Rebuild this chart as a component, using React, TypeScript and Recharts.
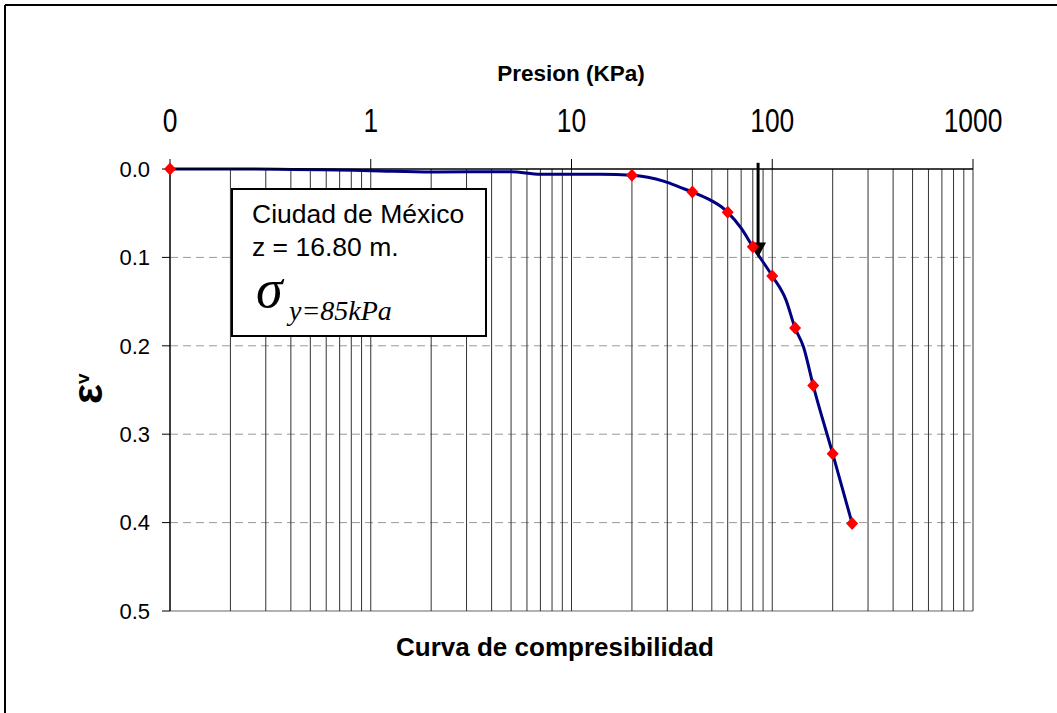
import React from "react";
import { ComposedChart, Line, XAxis, YAxis, ReferenceLine } from "recharts";

// presion (kPa) and vertical strain
const curveP = [0.1, 0.2, 1, 2, 5, 7, 14, 20, 29, 35, 40, 50, 56, 60, 70, 80, 100, 117, 130, 143, 160, 200, 250];
const curveE = [0, 0, 0.002, 0.0035, 0.003, 0.006, 0.006, 0.007, 0.014, 0.021, 0.026, 0.036, 0.043, 0.049, 0.067, 0.088, 0.121, 0.148, 0.18, 0.201, 0.245, 0.322, 0.401];

const pointP = [0.1, 20, 40, 60, 80, 100, 130, 160, 200, 250];
const pointE = [0, 0.007, 0.026, 0.049, 0.088, 0.121, 0.18, 0.245, 0.322, 0.401];

const xTicks = [0.1, 1, 10, 100, 1000];
const yTicks = [0, 0.1, 0.2, 0.3, 0.4, 0.5];
const yMinor = [0.02, 0.04, 0.06, 0.08, 0.12, 0.14, 0.16, 0.18, 0.22, 0.24, 0.26, 0.28, 0.32, 0.34, 0.36, 0.38, 0.42, 0.44, 0.46, 0.48];
const xGrid = [
  0.2, 0.3, 0.4, 0.5, 0.6, 0.7, 0.8, 0.9, 1,
  2, 3, 4, 5, 6, 7, 8, 9, 10,
  20, 30, 40, 50, 60, 70, 80, 90, 100,
  200, 300, 400, 500, 600, 700, 800, 900, 1000,
];
const yGrid = [0.1, 0.2, 0.3, 0.4];

const yieldP = 85;
const arrowFrom = -0.007;
const arrowTo = 0.1;

const curve = curveP.map((p, i) => ({ p, e: curveE[i] }));
const points = pointP.map((p, i) => ({ p, e: pointE[i] }));

const FONT = "'Liberation Sans', Arial, sans-serif";
const SERIF = "'Liberation Serif', 'Times New Roman', serif";

function TopTick({ x, y, payload }: any) {
  return (
    <text
      x={x}
      y={y}
      textAnchor="middle"
      fontSize={33}
      fontFamily={FONT}
      fill="#000"
      transform={`translate(${x} 0) scale(0.8 1) translate(${-x} 0)`}
    >
      {Math.round(payload.value)}
    </text>
  );
}

function Diamond({ cx, cy, index }: any) {
  if (cx == null || cy == null) return <g key={`d${index}`} />;
  return (
    <polygon
      key={`d${index}`}
      points={`${cx},${cy - 6.5} ${cx + 6},${cy} ${cx},${cy + 6.5} ${cx - 6},${cy}`}
      fill="#ff0000"
    />
  );
}

function Arrow(props: any) {
  const { x1, y1, x2, y2 } = props;
  if (x1 == null) return null;
  return (
    <g>
      <line x1={x1} y1={y1} x2={x2} y2={y2 - 10} stroke="#000" strokeWidth={3} />
      <polygon points={`${x2},${y2} ${x2 - 8},${y2 - 15} ${x2 + 8},${y2 - 15}`} fill="#000" />
    </g>
  );
}

export default function App() {
  return (
    <div style={{ position: "absolute", left: 0, top: 0, width: 1057, height: 713, background: "#fff" }}>
      <ComposedChart
        width={1057}
        height={713}
        margin={{ top: 109, right: 84, bottom: 102, left: 110 }}
      >
        <XAxis
          dataKey="p"
          type="number"
          scale="log"
          domain={[0.1, 1000]}
          ticks={xTicks}
          orientation="top"
          height={60}
          tickSize={10}
          tickMargin={27}
          tick={<TopTick />}
          axisLine={{ stroke: "#000", strokeWidth: 1.5 }}
          tickLine={{ stroke: "#000" }}
        />
        <YAxis
          type="number"
          domain={[0, 0.5]}
          ticks={yTicks}
          reversed
          width={60}
          tickSize={8}
          tickMargin={12}
          tickFormatter={(v: number) => v.toFixed(1)}
          tick={{ fontSize: 22, fontFamily: FONT, fill: "#000" }}
          axisLine={{ stroke: "#000", strokeWidth: 1.5 }}
          tickLine={{ stroke: "#000" }}
        />
        <YAxis
          yAxisId="minor"
          type="number"
          domain={[0, 0.5]}
          ticks={yMinor}
          reversed
          mirror
          tick={false}
          tickSize={5}
          axisLine={false}
          tickLine={{ stroke: "#000" }}
        />
        {yGrid.map((v) => (
          <ReferenceLine key={`h${v}`} y={v} stroke="#999" strokeDasharray="8 5" />
        ))}
        <ReferenceLine y={0.5} stroke="#999" strokeWidth={1.5} />
        {xGrid.map((v) => (
          <ReferenceLine key={`v${v}`} x={v} stroke="#333" strokeWidth={1} />
        ))}
        <Line
          data={curve}
          dataKey="e"
          type="monotone"
          stroke="#000080"
          strokeWidth={3}
          dot={false}
          activeDot={false}
          isAnimationActive={false}
        />
        <Line
          data={points}
          dataKey="e"
          stroke="none"
          dot={<Diamond />}
          activeDot={false}
          isAnimationActive={false}
        />
        <ReferenceLine
          segment={[{ x: yieldP, y: arrowFrom }, { x: yieldP, y: arrowTo }]}
          ifOverflow="visible"
          shape={<Arrow />}
        />
      </ComposedChart>

      <svg
        width={1057}
        height={713}
        style={{ position: "absolute", left: 0, top: 0, pointerEvents: "none" }}
      >
        <line x1={5} y1={5} x2={1057} y2={5} stroke="#000" strokeWidth={2} />
        <line x1={5} y1={5} x2={5} y2={713} stroke="#000" strokeWidth={2} />

        <text x={571} y={81} textAnchor="middle" fontFamily={FONT} fontWeight="bold" fontSize={22.5}>
          Presion (KPa)
        </text>
        <text x={555} y={656} textAnchor="middle" fontFamily={FONT} fontWeight="bold" fontSize={26}>
          Curva de compresibilidad
        </text>

        <text x={102} y={404} transform="rotate(-90 102 404)" fontFamily={FONT} fontWeight="bold" fontSize={42}>
          ε
        </text>
        <text x={89} y={384} transform="rotate(-90 89 384)" fontFamily={FONT} fontWeight="bold" fontSize={19}>
          v
        </text>

        <rect x={232} y={189} width={254} height={147} fill="#fff" stroke="#000" strokeWidth={2} />
        <text x={252} y={223} fontFamily={FONT} fontSize={26.5}>
          Ciudad de México
        </text>
        <text x={252} y={256} fontFamily={FONT} fontSize={26.5}>
          z = 16.80 m.
        </text>
        <text x={256} y={307} fontFamily={SERIF} fontStyle="italic" fontSize={54}>
          σ
        </text>
        <text x={289} y={320} fontFamily={SERIF} fontStyle="italic" fontSize={28}>
          y=85kPa
        </text>
      </svg>
    </div>
  );
}
